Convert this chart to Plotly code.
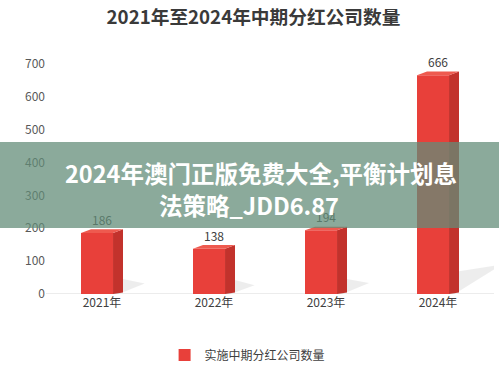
import plotly.graph_objects as go

categories = ["2021年", "2022年", "2023年", "2024年"]
values = [186, 138, 194, 666]
series_name = "实施中期分红公司数量"
title_text = "2021年至2024年中期分红公司数量"
banner_lines = ["2024年澳门正版免费大全,平衡计划息", "法策略_JDD6.87"]
y_ticks = [0, 100, 200, 300, 400, 500, 600, 700]

FONT = "Noto Sans CJK SC"
front_w = 0.286
depth = 0.089
slant = 11
half = (front_w + depth) / 2

fig = go.Figure()
xs = list(range(len(categories)))

# shadows
for i, v in zip(xs, values):
    x0 = i - half + front_w
    fig.add_trace(go.Scatter(
        x=[x0, x0 + depth, x0 + depth + 0.12 + v / 2500, x0 + 0.05],
        y=[0, min(v, 60) * 0.6 + v * 0.05, v * 0.12 + 10, 0],
        fill="toself", mode="lines", line=dict(width=0),
        fillcolor="rgba(0,0,0,0.07)", showlegend=False, hoverinfo="skip"))

# front faces
fig.add_trace(go.Bar(
    x=[i - half + front_w / 2 for i in xs], y=values, width=front_w,
    marker=dict(color="#e8403a", line=dict(width=0)),
    name=series_name, showlegend=True))

# side and top faces
for i, v in zip(xs, values):
    xr = i - half + front_w
    xl = i - half
    fig.add_trace(go.Scatter(
        x=[xr, xr + depth, xr + depth, xr, xr],
        y=[0, slant * 0.4, v + slant, v, 0],
        fill="toself", mode="lines", line=dict(width=0),
        fillcolor="#c2322c", showlegend=False, hoverinfo="skip"))
    fig.add_trace(go.Scatter(
        x=[xl, xr, xr + depth, xl + depth, xl],
        y=[v, v, v + slant, v + slant, v],
        fill="toself", mode="lines", line=dict(width=0),
        fillcolor="#ee5a4f", showlegend=False, hoverinfo="skip"))

# value labels
fig.add_trace(go.Scatter(
    x=xs, y=[v + slant + 4 for v in values], mode="text",
    text=[str(v) for v in values], textposition="top center",
    textfont=dict(family=FONT, size=12, color="#404040"),
    showlegend=False, hoverinfo="skip", cliponaxis=False))

fig.update_layout(
    width=499, height=374,
    margin=dict(l=46, r=5, t=64, b=80, autoexpand=False),
    paper_bgcolor="white", plot_bgcolor="white",
    title=dict(text="<b>" + title_text + "</b>", x=0.508, xanchor="center",
               y=0.952, yanchor="middle",
               font=dict(family=FONT, size=18.7, color="#3a3a3a")),
    xaxis=dict(range=[-0.5, 3.5], tickvals=xs, ticktext=categories,
               showgrid=False, zeroline=False, showline=False,
               tickfont=dict(family=FONT, size=12, color="#404040"), ticks=""),
    yaxis=dict(range=[0, 700], tickvals=y_ticks, showgrid=False,
               zeroline=False, showline=False, ticks="",
               tickfont=dict(family=FONT, size=12, color="#595959")),
    legend=dict(orientation="h", x=0.45, xanchor="center",
                yref="container", y=1 - 355 / 374, yanchor="middle",
                itemwidth=30,
                font=dict(family=FONT, size=12, color="#404040")),
    showlegend=True,
)

# baseline
fig.add_shape(type="line", xref="x", yref="y", x0=-0.5, x1=3.5, y0=0, y1=0,
              line=dict(color="#d9d9d9", width=1), layer="below")

# banner overlay
fig.add_shape(type="rect", xref="paper", yref="paper",
              x0=-0.11, x1=1.02, y0=(294 - 228) / 230, y1=(294 - 142) / 230,
              fillcolor="rgba(98,140,120,0.74)", line=dict(width=0), layer="above")
for line, px, py in zip(banner_lines, [261, 249], [173, 205]):
    fig.add_annotation(xref="paper", yref="paper", x=(px - 46) / 448,
                       xanchor="center", yanchor="middle",
                       y=(294 - py) / 230, text="<b>" + line + "</b>",
                       showarrow=False, align="center",
                       font=dict(family=FONT, size=23.5, color="white"))

fig.write_html("out.html", post_script="document.body.style.margin='0';",
               config={"displayModeBar": False})
